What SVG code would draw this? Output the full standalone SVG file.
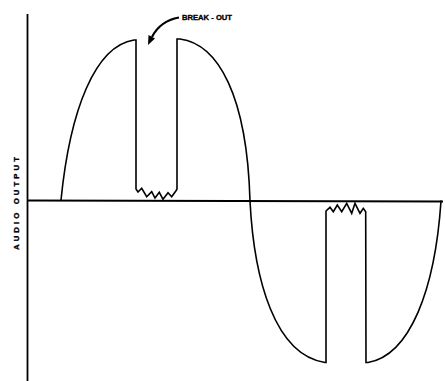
<svg xmlns="http://www.w3.org/2000/svg" width="445" height="381" viewBox="0 0 445 381">
<style>
.ln{fill:none;stroke:#000;stroke-width:1.6;stroke-linejoin:miter;stroke-linecap:round}
.ax{fill:none;stroke:#000;stroke-width:1.8}
.lbl{font-family:"Liberation Sans",Arial,sans-serif;font-weight:bold;font-size:7.8px;fill:#000;stroke:#000;stroke-width:0.35}
</style>
<rect width="445" height="381" fill="#fff"/>
<g id="axes">
<line class="ax" x1="27.5" y1="14" x2="27.5" y2="381"/>
<line class="ax" x1="27" y1="200.5" x2="443" y2="201.5"/>
</g>
<g id="y-label">
<text class="lbl" transform="translate(18.5,250) rotate(-90)" textLength="93" lengthAdjust="spacing">AUDIO OUTPUT</text>
</g>
<g id="waveform">
<path class="ln" d="M61,200 C70,110 95,46 134,40 L136,40 L136,189 L138,192 L141.7,188.3 L146.7,196.7 L151.7,191.7 L155,198 L159.3,192.3 L163,199.3 L168,192.7 L171.7,196.7 L176,190.7 L177,189 L177,39 L180,39 C218,44 247,95 250,201 C254,280 275,355 325,362.5 L326,362.5 L326,211 L330,207.3 L333.3,211.7 L337.3,205 L341.7,211.7 L346.7,203.3 L351.7,213.3 L355,203.3 L360,213.3 L363.3,208.3 L365.7,211.7 L366,362.5 L368,362.5 C410,355 435,290 441,201"/>
</g>
<g id="break-out">
<text class="lbl" x="182" y="20" textLength="50" lengthAdjust="spacingAndGlyphs">BREAK - OUT</text>
<g id="connectors">
<path d="M179,17.5 Q160,21 152,37" fill="none" stroke="#000" stroke-width="2.2"/>
<polygon points="148,45 148.5,35 155,38.5" fill="#000"/>
</g>
</g>
</svg>
